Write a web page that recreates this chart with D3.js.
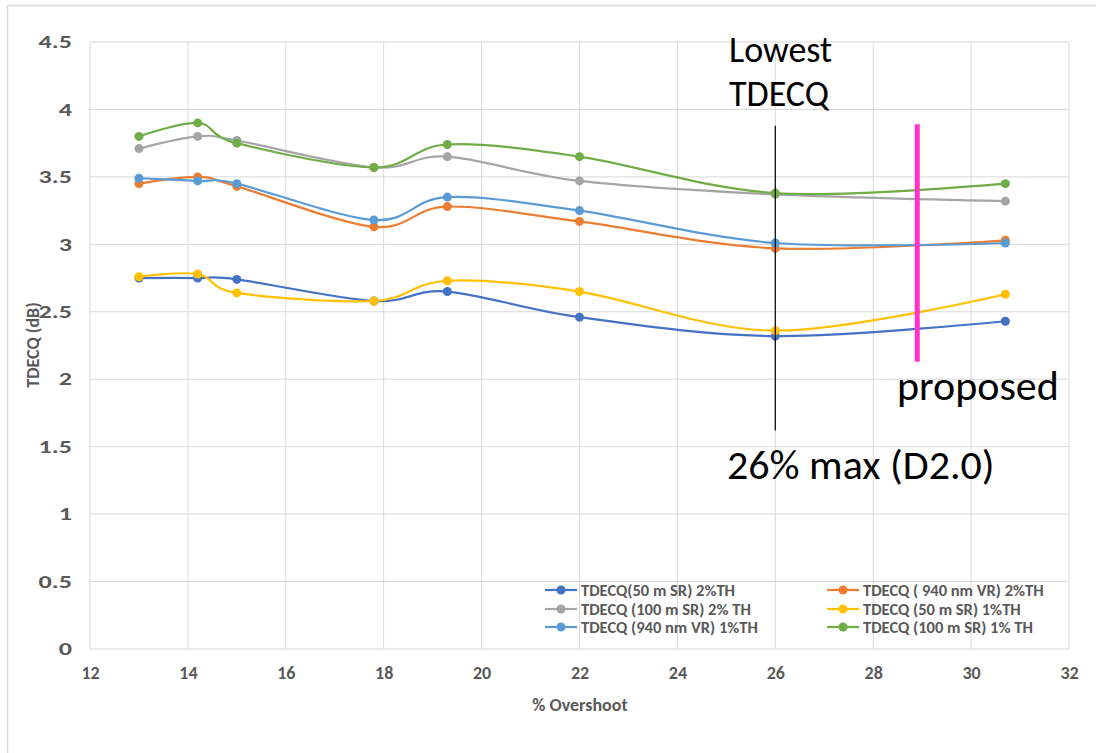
<!DOCTYPE html>
<html>
<head>
	<title>TDECQ vs Overshoot</title>
	<script src="https://d3js.org/d3.v7.min.js"></script>
	<style>
		body { margin: 0; background: #fff; }
		text { font-family: Carlito, "Liberation Sans Narrow", "Liberation Sans", sans-serif; }
	</style>
	<script type="text/javascript">
		// x positions (% overshoot) shared by every series
		var overshoot = [13, 14.2, 15, 17.8, 19.3, 22, 26, 30.7];

		var seriesNames = [
			'TDECQ(50 m SR) 2%TH',
			'TDECQ ( 940 nm VR) 2%TH',
			'TDECQ (100 m SR) 2% TH',
			'TDECQ (50 m SR) 1%TH',
			'TDECQ (940 nm VR) 1%TH',
			'TDECQ (100 m SR) 1% TH'
		];
		var seriesColors = ['#4472C4', '#ED7D31', '#A5A5A5', '#FFC000', '#5B9BD5', '#70AD47'];

		var sr50_2 = [2.75, 2.75, 2.74, 2.58, 2.65, 2.46, 2.32, 2.43];
		var vr940_2 = [3.45, 3.50, 3.43, 3.13, 3.28, 3.17, 2.97, 3.03];
		var sr100_2 = [3.71, 3.80, 3.77, 3.57, 3.65, 3.47, 3.37, 3.32];
		var sr50_1 = [2.76, 2.78, 2.64, 2.58, 2.73, 2.65, 2.36, 2.63];
		var vr940_1 = [3.49, 3.47, 3.45, 3.18, 3.35, 3.25, 3.01, 3.01];
		var sr100_1 = [3.80, 3.90, 3.75, 3.57, 3.74, 3.65, 3.38, 3.45];

		var xTicks = [12, 14, 16, 18, 20, 22, 24, 26, 28, 30, 32];
		var yTicks = [0, 0.5, 1, 1.5, 2, 2.5, 3, 3.5, 4, 4.5];

		// annotation lines: [x, yTop, yBottom]
		var lowestLine = [26, 3.88, 1.62];
		var proposedLine = [28.9, 3.89, 2.13];

		function draw() {
			var width = 1096, height = 753;
			var margin = {top: 42, right: 27, bottom: 104, left: 90};

			var svg = d3.select('body').append('svg')
				.attr('width', width)
				.attr('height', height);

			// chart border
			svg.append('rect')
				.attr('x', 7.5).attr('y', 5.5)
				.attr('width', width + 10).attr('height', height + 10)
				.attr('fill', 'none')
				.attr('stroke', '#d9d9d9')
				.attr('stroke-width', 1.5);

			var x = d3.scaleLinear().domain([12, 32]).range([margin.left, width - margin.right]);
			var y = d3.scaleLinear().domain([0, 4.5]).range([height - margin.bottom, margin.top]);

			// grid
			var grid = svg.append('g');
			grid.selectAll('.gx').data(xTicks).enter().append('line')
				.attr('x1', function(d) { return x(d); })
				.attr('x2', function(d) { return x(d); })
				.attr('y1', y(0)).attr('y2', y(4.5))
				.attr('stroke', '#d9d9d9').attr('stroke-width', 1);
			grid.selectAll('.gy').data(yTicks).enter().append('line')
				.attr('x1', x(12)).attr('x2', x(32))
				.attr('y1', function(d) { return y(d); })
				.attr('y2', function(d) { return y(d); })
				.attr('stroke', '#d9d9d9').attr('stroke-width', 1);

			// axes, drawn with d3 axis then styled
			var xAxis = svg.append('g')
				.attr('transform', 'translate(0,' + y(0) + ')')
				.call(d3.axisBottom(x).tickValues(xTicks).tickSize(0).tickPadding(17));
			var yAxis = svg.append('g')
				.attr('transform', 'translate(' + x(12) + ',0)')
				.call(d3.axisLeft(y).tickValues(yTicks).tickSize(0).tickPadding(18).tickFormat(d3.format('')));
			[xAxis, yAxis].forEach(function(a) {
				a.select('.domain').remove();
				a.selectAll('text')
					.attr('font-size', 18)
					.attr('font-weight', 'bold')
					.attr('fill', '#595959')
					.style('font-family', 'Carlito, "Liberation Sans Narrow", sans-serif');
			});
			// the y labels are wider in the original picture
			yAxis.selectAll('text')
				.attr('x', 0)
				.attr('transform', 'translate(-18,0) scale(1.45,1)');

			svg.append('text')
				.attr('x', 580).attr('y', 711)
				.attr('text-anchor', 'middle')
				.attr('font-size', 18)
				.attr('font-weight', 'bold')
				.attr('fill', '#595959')
				.text('% Overshoot');
			svg.append('text')
				.attr('transform', 'translate(39,' + 345 + ') rotate(-90)')
				.attr('text-anchor', 'middle')
				.attr('font-size', 18)
				.attr('font-weight', 'bold')
				.attr('fill', '#595959')
				.text('TDECQ (dB)');

			var allSeries = [sr50_2, vr940_2, sr100_2, sr50_1, vr940_1, sr100_1];
			var line = d3.line()
				.x(function(d, i) { return x(overshoot[i]); })
				.y(function(d) { return y(d); })
				.curve(d3.curveCatmullRom.alpha(0));

			var g = svg.append('g');
			allSeries.forEach(function(vals, k) {
				g.append('path')
					.attr('d', line(vals))
					.attr('fill', 'none')
					.attr('stroke', seriesColors[k])
					.attr('stroke-width', 2.2);
				g.selectAll('.m' + k).data(vals).enter().append('circle')
					.attr('cx', function(d, i) { return x(overshoot[i]); })
					.attr('cy', function(d) { return y(d); })
					.attr('r', 4.5)
					.attr('fill', seriesColors[k]);
			});

			// legend, two columns
			var legend = svg.append('g');
			var colX = [545, 827];
			var rowY = [590, 609, 627];
			seriesNames.forEach(function(name, k) {
				var lx = colX[k % 2], ly = rowY[Math.floor(k / 2)];
				legend.append('line')
					.attr('x1', lx).attr('x2', lx + 32)
					.attr('y1', ly).attr('y2', ly)
					.attr('stroke', seriesColors[k]).attr('stroke-width', 2.2);
				legend.append('circle')
					.attr('cx', lx + 16).attr('cy', ly).attr('r', 4.5)
					.attr('fill', seriesColors[k]);
				legend.append('text')
					.attr('x', lx + 36).attr('y', ly + 5.5)
					.attr('font-size', 16.5)
					.attr('font-weight', 'bold')
					.attr('fill', '#595959')
					.text(name);
			});

			// annotations
			svg.append('line')
				.attr('x1', x(lowestLine[0])).attr('x2', x(lowestLine[0]))
				.attr('y1', y(lowestLine[1])).attr('y2', y(lowestLine[2]))
				.attr('stroke', '#000').attr('stroke-width', 1.2);
			svg.append('line')
				.attr('x1', x(proposedLine[0])).attr('x2', x(proposedLine[0]))
				.attr('y1', y(proposedLine[1])).attr('y2', y(proposedLine[2]))
				.attr('stroke', '#FF33CC').attr('stroke-width', 5);

			var big = [
				{t: 'Lowest', x: 729, y: 62, s: 36},
				{t: 'TDECQ', x: 729, y: 106, s: 36},
				{t: 'proposed', x: 897, y: 400, s: 42},
				{t: '26% max (D2.0)', x: 727, y: 479, s: 42}
			];
			svg.selectAll('.ann').data(big).enter().append('text')
				.attr('x', function(d) { return d.x; })
				.attr('y', function(d) { return d.y; })
				.attr('font-size', function(d) { return d.s; })
				.attr('fill', '#000')
				.text(function(d) { return d.t; });
		}
	</script>
</head>
<body onload="draw()">
</body>
</html>
